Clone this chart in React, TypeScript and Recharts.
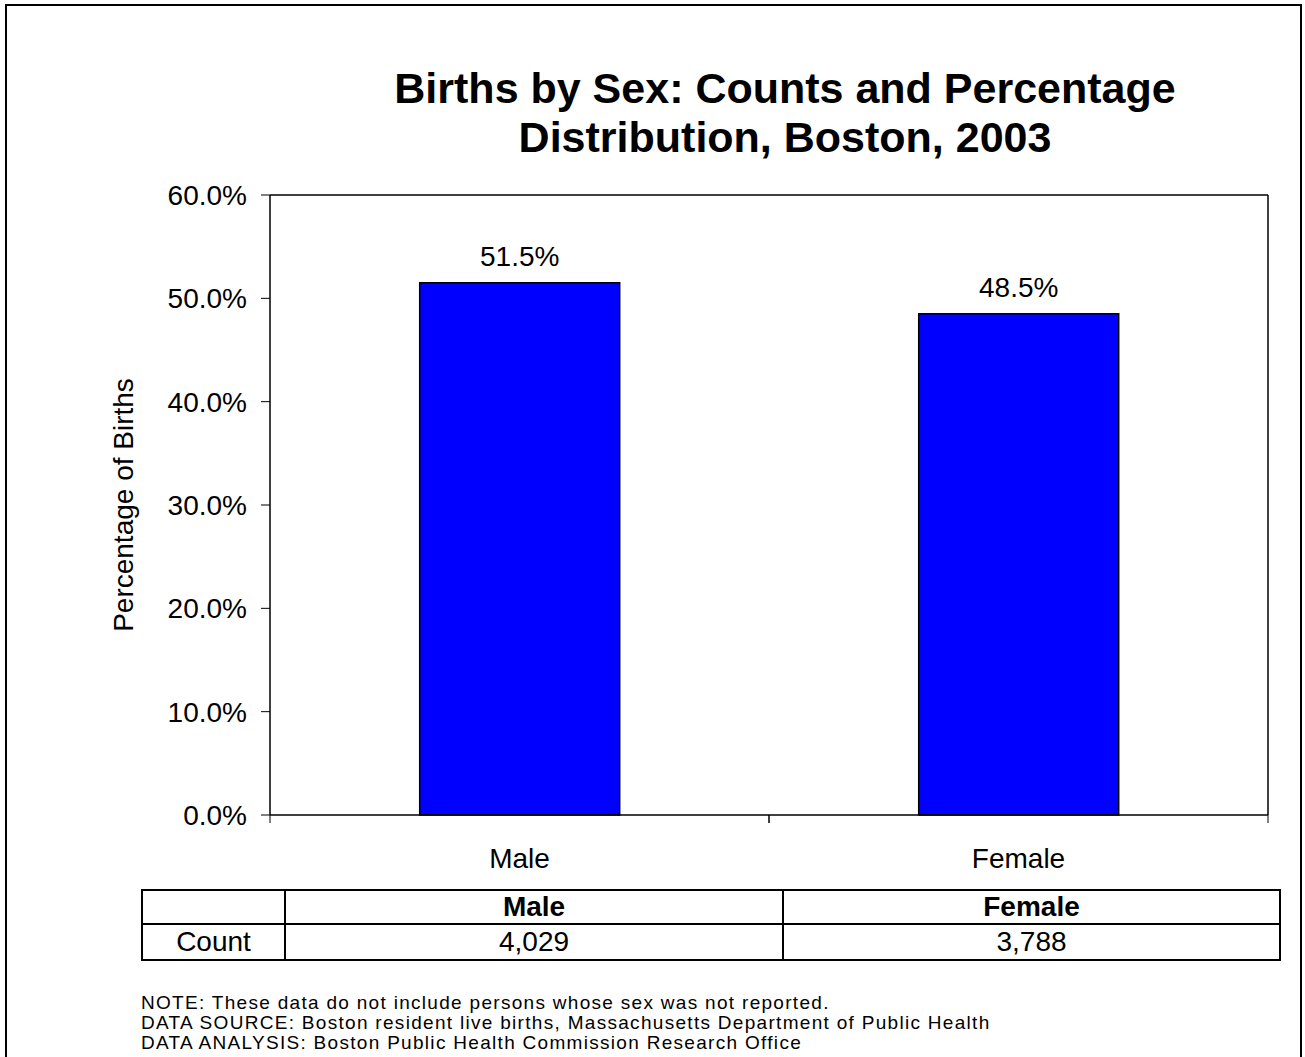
import { BarChart, Bar, XAxis, YAxis, LabelList } from 'recharts';

const categories = ['Male', 'Female'];
const percents = [51.5, 48.5];
const counts = [4029, 3788];
const yTicks = [0, 10, 20, 30, 40, 50, 60];
const titleLines = ['Births by Sex: Counts and Percentage', 'Distribution, Boston, 2003'];
const notes = [
  'NOTE: These data do not include persons whose sex was not reported.',
  'DATA SOURCE: Boston resident live births, Massachusetts Department of Public Health',
  'DATA ANALYSIS: Boston Public Health Commission Research Office',
];

const data = categories.map((sex, i) => ({ sex, pct: percents[i] }));

const FONT = '"Liberation Sans", Arial, Helvetica, sans-serif';
const pctLabel = (v: number) => `${v.toFixed(1)}%`;
const AXIS = { stroke: '#000', strokeWidth: 1.5 };

const cell: React.CSSProperties = {
  border: '2px solid #000',
  padding: 0,
  textAlign: 'center',
  verticalAlign: 'middle',
  lineHeight: '30px',
};

// category label at the band centre, Excel-style tick marks on the band edges
function CategoryTick(props: any) {
  const { x, y, payload, width, visibleTicksCount } = props;
  const half =
    typeof payload.offset === 'number' && payload.offset > 0
      ? payload.offset
      : width / visibleTicksCount / 2;
  return (
    <g>
      <line x1={x - half} x2={x - half} y1={y} y2={y + 8} stroke="#000" strokeWidth={1} />
      <line x1={x + half} x2={x + half} y1={y} y2={y + 8} stroke="#000" strokeWidth={1} />
      <text x={x} y={y + 53} textAnchor="middle" fontSize={28} fontFamily={FONT} fill="#000">
        {payload.value}
      </text>
    </g>
  );
}

export default function App() {
  return (
    <div
      style={{
        position: 'absolute',
        left: 0,
        top: 0,
        width: 1305,
        height: 1057,
        overflow: 'hidden',
        background: '#fff',
        fontFamily: FONT,
        color: '#000',
      }}
    >
      {/* outer frame */}
      <div
        style={{
          position: 'absolute',
          left: 5,
          top: 4,
          width: 1297,
          height: 1100,
          border: '2px solid #000',
          boxSizing: 'border-box',
        }}
      />

      <div
        style={{
          position: 'absolute',
          left: 285,
          top: 64,
          width: 1000,
          textAlign: 'center',
          fontSize: 43,
          fontWeight: 'bold',
          lineHeight: '49px',
        }}
      >
        {titleLines.map((t) => (
          <div key={t}>{t}</div>
        ))}
      </div>

      <div style={{ position: 'absolute', left: 0, top: 0 }}>
        <BarChart
          width={1305}
          height={880}
          data={data}
          margin={{ top: 194, right: 36, bottom: 5, left: 100 }}
          barCategoryGap="30%"
        >
          <XAxis
            xAxisId="cat"
            dataKey="sex"
            interval={0}
            tick={CategoryTick}
            tickLine={false}
            tickSize={0}
            tickMargin={0}
            axisLine={AXIS}
            height={60}
          />
          <XAxis
            xAxisId="top"
            dataKey="sex"
            orientation="top"
            tick={false}
            tickLine={false}
            axisLine={AXIS}
            height={1}
          />
          <YAxis
            yAxisId="left"
            domain={[0, 60]}
            ticks={yTicks}
            tickFormatter={pctLabel}
            tickSize={9}
            tickMargin={14}
            tickLine={{ stroke: '#000', strokeWidth: 1 }}
            axisLine={AXIS}
            tick={{ fontSize: 28, fill: '#000', fontFamily: FONT }}
            width={170}
            label={{
              value: 'Percentage of Births',
              angle: -90,
              position: 'insideLeft',
              offset: 23,
              style: { textAnchor: 'middle', fontSize: 28, fill: '#000', fontFamily: FONT },
            }}
          />
          <YAxis
            yAxisId="right"
            orientation="right"
            domain={[0, 60]}
            ticks={yTicks}
            tick={false}
            tickLine={false}
            axisLine={AXIS}
            width={1}
          />
          <Bar
            xAxisId="cat"
            yAxisId="left"
            dataKey="pct"
            fill="#0000FF"
            stroke="#000"
            strokeWidth={1.5}
            isAnimationActive={false}
          >
            <LabelList
              dataKey="pct"
              position="top"
              offset={17}
              formatter={(v: number) => pctLabel(v)}
              style={{ fontSize: 28, fill: '#000', fontFamily: FONT }}
            />
          </Bar>
        </BarChart>
      </div>

      <table
        style={{
          position: 'absolute',
          left: 141,
          top: 889,
          width: 1138,
          borderCollapse: 'collapse',
          tableLayout: 'fixed',
          fontSize: 28,
          fontFamily: FONT,
        }}
      >
        <colgroup>
          <col style={{ width: 143 }} />
          <col style={{ width: 498 }} />
          <col style={{ width: 497 }} />
        </colgroup>
        <tbody>
          <tr style={{ height: 34 }}>
            <td style={cell} />
            {categories.map((c) => (
              <td key={c} style={{ ...cell, fontWeight: 'bold' }}>
                {c}
              </td>
            ))}
          </tr>
          <tr style={{ height: 36 }}>
            <td style={cell}>Count</td>
            {counts.map((n, i) => (
              <td key={categories[i]} style={cell}>
                {n.toLocaleString('en-US')}
              </td>
            ))}
          </tr>
        </tbody>
      </table>

      <div
        style={{
          position: 'absolute',
          left: 141,
          top: 993,
          fontSize: 19,
          letterSpacing: '1.3px',
          lineHeight: '20px',
          whiteSpace: 'nowrap',
        }}
      >
        {notes.map((n) => (
          <div key={n}>{n}</div>
        ))}
      </div>
    </div>
  );
}
